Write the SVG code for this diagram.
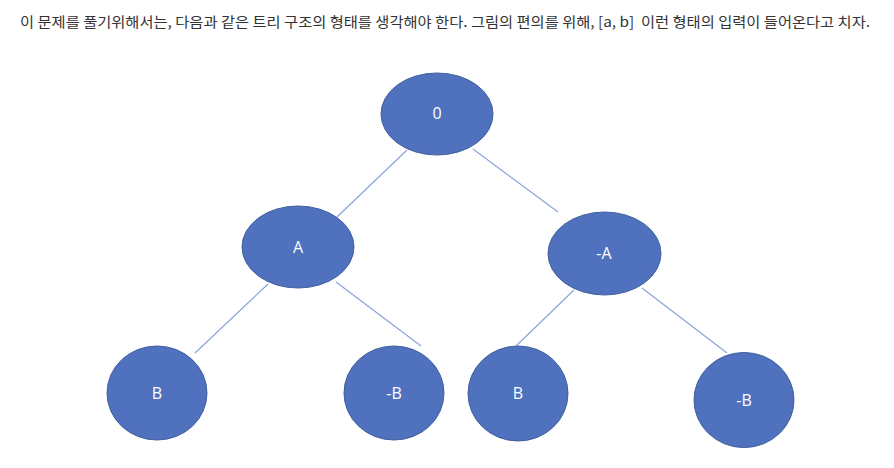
<svg xmlns="http://www.w3.org/2000/svg" width="894" height="468" viewBox="0 0 894 468">
<style>
.node ellipse{fill:#4F71BE;stroke:#41609F;stroke-width:1}
.node text{fill:#ffffff;font-family:"Open Sans","Noto Sans","Liberation Sans",sans-serif;font-size:16px;text-anchor:middle}
.edge{stroke:#8AA5DA;stroke-width:1.2;fill:none}
.hdr{fill:#333333;font-family:"Noto Sans CJK KR","Noto Sans",sans-serif;font-size:14px;white-space:pre}
</style>
<rect width="894" height="468" fill="#ffffff"/>
<text class="hdr" xml:space="preserve" x="20" y="27" textLength="850" lengthAdjust="spacingAndGlyphs">이 문제를 풀기위해서는, 다음과 같은 트리 구조의 형태를 생각해야 한다. 그림의 편의를 위해, [a, b]  이런 형태의 입력이 들어온다고 치자.</text>
<g id="connectors">
<line class="edge" x1="407" y1="150" x2="337" y2="217"/>
<line class="edge" x1="473" y1="149" x2="558" y2="212"/>
<line class="edge" x1="268" y1="284" x2="195" y2="353"/>
<line class="edge" x1="336" y1="282" x2="421" y2="346"/>
<line class="edge" x1="574" y1="290" x2="516" y2="346"/>
<line class="edge" x1="642" y1="288" x2="727" y2="353"/>
</g>
<g id="n0" class="node"><ellipse cx="437" cy="114" rx="56" ry="41"/><text x="437" y="119">0</text></g>
<g id="nA" class="node"><ellipse cx="298" cy="247" rx="56" ry="41"/><text x="298" y="253">A</text></g>
<g id="nnegA" class="node"><ellipse cx="604.5" cy="253.5" rx="56.5" ry="41.5"/><text x="604" y="259">-A</text></g>
<g id="nB1" class="node"><ellipse cx="157" cy="393" rx="50" ry="47"/><text x="157" y="399">B</text></g>
<g id="nnegB1" class="node"><ellipse cx="394" cy="393" rx="50" ry="47"/><text x="394" y="399">-B</text></g>
<g id="nB2" class="node"><ellipse cx="518" cy="393.5" rx="50" ry="47.5"/><text x="518" y="399">B</text></g>
<g id="nnegB2" class="node"><ellipse cx="744" cy="400" rx="50" ry="47.5"/><text x="744" y="406">-B</text></g>
</svg>
